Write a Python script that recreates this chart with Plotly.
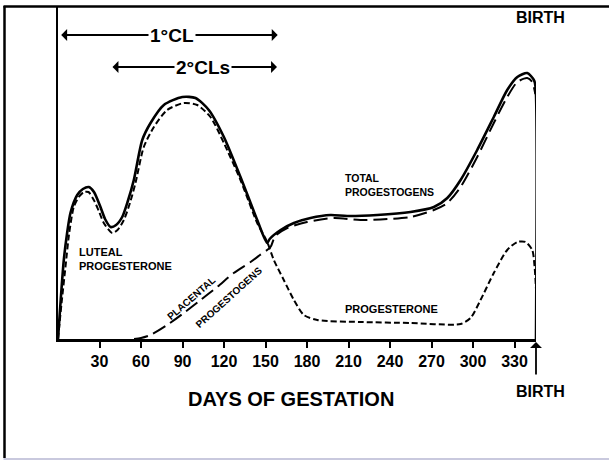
import plotly.graph_objects as go

# ---------------- data (relative progestogen level, arbitrary units) ----------------
total_days = [0, 2, 4.2, 6.5, 9, 13.9, 18, 22.3, 26, 30.7, 34, 38, 42, 46.4, 50.5, 54.8,
              60.9, 66.9, 76.5, 89.8, 99.4, 109, 119.9, 131.9, 144, 151.2, 153, 160.9,
              170.5, 182.5, 197, 209, 230.7, 254.8, 271.7, 281.4, 291, 303, 315, 324.7,
              332, 339.2, 344, 345.2, 345.5]
total_level = [0, 40, 79, 105, 126, 144, 150, 152, 147, 132, 120, 112, 114, 122, 138, 159,
               199, 216, 234, 242, 241, 229, 202, 162, 119, 96, 100, 109,
               116, 121, 124, 123, 124, 127, 132, 141, 159, 189, 222, 249,
               262, 266, 259, 252, 0]

luteal_days = [0, 2.5, 5.4, 8, 11.4, 15, 18.7, 22, 25.9, 29.5, 33.1, 39.2, 43, 47.6, 52, 56,
               62, 69.3, 78.9, 90.9, 100.6, 110.2, 119.9, 131.9, 144, 151.2, 156, 163.2,
               170.5, 177.7, 187.4, 218.7, 254.8, 291, 298.2, 305.4, 315, 324.7, 332, 338,
               342.8, 344.5, 345.5]
luteal_level = [0, 35, 72, 105, 132, 142, 147, 147, 139, 128, 116, 106, 109, 119, 136, 156,
                192, 212, 229, 236, 234, 222, 196, 159, 116, 97, 79, 59,
                39, 24, 19, 17, 16, 15, 21, 39, 66, 89, 97, 97,
                89, 72, 50]

placental_days = [55, 60, 66.9, 78.9, 90.9, 103, 115, 127, 139.2, 146, 153.6, 157, 165.7,
                  180, 199.4, 218.7, 238, 254.8, 271.7, 281.4, 291, 303, 315, 324.7, 332,
                  339.2, 342.8, 345]
placental_level = [0, 1, 4, 14, 26, 39, 52, 66, 77, 84, 92, 103, 111,
                   117, 121, 119, 120, 122, 129, 136, 152, 182, 216, 242, 257,
                   261, 257, 245]

tick_days = [30, 60, 90, 120, 150, 180, 210, 240, 270, 300, 330]
tick_labels = [str(d) for d in tick_days]

cl_labels = ["1°CL", "2°CLs"]
cl_start = [2.3, 39.4]
cl_end = [158.8, 158.3]
birth_day = 345.5

# ---------------- layout geometry ----------------
W, H = 609, 461
L, T, PW, PH = 58, 7, 478, 332
XMAX, YMAX = 345.5, 332

def px_x(p):  # pixel -> paper x
    return (p - L) / PW

def px_y(p):  # pixel -> paper y
    return 1 - (p - T) / PH

def dx(p):  # pixel -> data x
    return (p - L) / PW * XMAX

def dy(p):  # pixel -> data y
    return T + PH - p

FONT = "Liberation Sans, Arial, sans-serif"

def bold(s):
    return dict(family=FONT, size=s, color="black", weight="bold")

fig = go.Figure()
fig.add_trace(go.Scatter(x=luteal_days, y=luteal_level, mode="lines",
                         line=dict(color="black", width=2, dash="6px,3px", shape="spline", smoothing=0.7),
                         cliponaxis=False, hoverinfo="skip", name="Progesterone"))
fig.add_trace(go.Scatter(x=placental_days, y=placental_level, mode="lines",
                         line=dict(color="black", width=2, dash="14px,6px", shape="spline", smoothing=0.7),
                         cliponaxis=False, hoverinfo="skip", name="Placental progestogens"))
fig.add_trace(go.Scatter(x=total_days, y=total_level, mode="lines",
                         line=dict(color="black", width=2.6, shape="spline", smoothing=0.7),
                         cliponaxis=False, hoverinfo="skip", name="Total progestogens"))

ann = []
# CL period arrows
cl_centers = [dx(172), dx(202.5)]
cl_y = [dy(35), dy(67)]
for lab, s, e, c, yy in zip(cl_labels, cl_start, cl_end, cl_centers, cl_y):
    for tip in (s, e):
        ann.append(dict(x=tip, y=yy, ax=c, ay=yy, axref="x", ayref="y", xref="x", yref="y",
                        text="", showarrow=True, arrowhead=1, arrowsize=1.1, arrowwidth=1.8,
                        arrowcolor="black"))
    ann.append(dict(x=c, y=yy, xref="x", yref="y", text=lab, showarrow=False,
                    xanchor="center", yanchor="middle",
                    font=bold(19), bgcolor="white", borderpad=1))

# curve labels
ann += [
    dict(x=dx(77), y=dy(259), text="LUTEAL<br>PROGESTERONE", xanchor="left", yanchor="middle",
         align="left", showarrow=False, font=bold(11)),
    dict(x=dx(190.7), y=dy(298), text="PLACENTAL", textangle=-41, showarrow=False,
         xanchor="center", yanchor="middle", font=bold(10)),
    dict(x=dx(228.5), y=dy(297), text="PROGESTOGENS", textangle=-42, showarrow=False,
         xanchor="center", yanchor="middle", font=bold(10)),
    dict(x=dx(343), y=dy(184.5), text="TOTAL<br>PROGESTOGENS", xanchor="left", yanchor="middle",
         align="left", showarrow=False, font=bold(10.5)),
    dict(x=dx(391), y=dy(309), text="PROGESTERONE", showarrow=False,
         xanchor="center", yanchor="middle", font=bold(11)),
    dict(xref="paper", yref="paper", x=px_x(540.5), y=px_y(18), text="BIRTH", showarrow=False,
         xanchor="center", yanchor="middle", font=bold(16)),
    dict(xref="paper", yref="paper", x=px_x(540.5), y=px_y(391.5), text="BIRTH", showarrow=False,
         xanchor="center", yanchor="middle", font=bold(16)),
    dict(xref="paper", yref="paper", x=px_x(290.5), y=px_y(398.5), text="DAYS OF GESTATION",
         showarrow=False, xanchor="center", yanchor="middle", font=bold(20)),
    # birth arrow below the axis
    dict(xref="paper", yref="paper", x=px_x(536), y=px_y(342), ax=0, ay=34, text="",
         showarrow=True, arrowhead=1, arrowsize=1.1, arrowwidth=1.8, arrowcolor="black"),
]

shapes = [
    dict(type="line", xref="paper", yref="paper", x0=px_x(3.5), x1=px_x(609), y0=px_y(6.5), y1=px_y(6.5),
         line=dict(color="black", width=2.5)),
    dict(type="line", xref="paper", yref="paper", x0=px_x(4.5), x1=px_x(4.5), y0=px_y(6), y1=px_y(458),
         line=dict(color="black", width=2.5)),
    dict(type="line", xref="paper", yref="paper", x0=px_x(3.5), x1=px_x(609), y0=px_y(459), y1=px_y(459),
         line=dict(color="#c9c9de", width=2)),
]

fig.update_layout(
    width=W, height=H,
    margin=dict(l=L, r=W - L - PW, t=T, b=H - T - PH),
    paper_bgcolor="white", plot_bgcolor="white",
    showlegend=False,
    annotations=ann, shapes=shapes,
    xaxis=dict(range=[0, XMAX], showgrid=False, zeroline=False, showline=True,
               linecolor="black", linewidth=2.5, ticks="outside", ticklen=6, tickwidth=2,
               tickcolor="black", tickvals=tick_days, ticktext=tick_labels,
               tickfont=bold(16), ticklabelstandoff=0, fixedrange=True),
    yaxis=dict(range=[0, YMAX], showgrid=False, zeroline=False, showline=True,
               linecolor="black", linewidth=2, ticks="", showticklabels=False, fixedrange=True),
)

fig.write_html("out.html", config={"displayModeBar": False},
               post_script="document.body.style.margin='0px';document.body.style.overflow='hidden';")
